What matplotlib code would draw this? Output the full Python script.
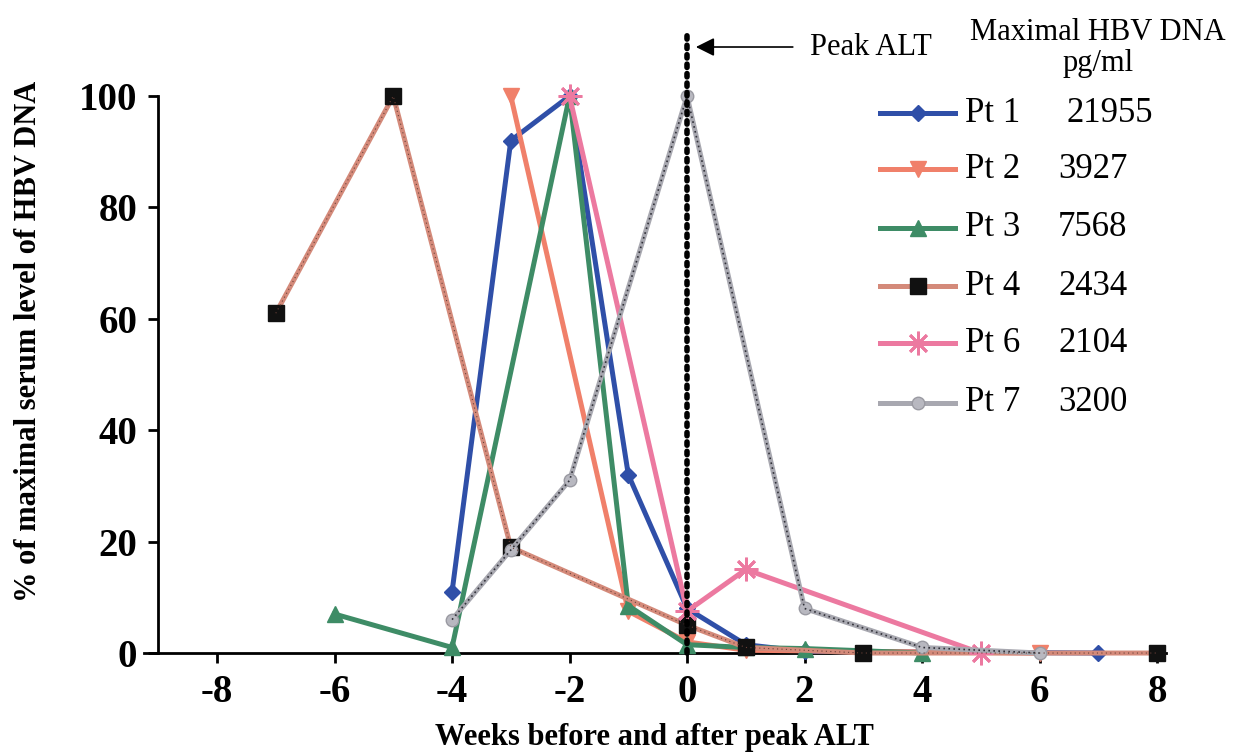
import matplotlib.pyplot as plt
from matplotlib.lines import Line2D

# datos (semanas, % del maximo de HBV DNA)
pt1_x = [-4, -3, -2, -1, 0, 1, 2, 7]
pt1_y = [11, 92, 100, 32, 8, 1.5, 0.3, 0]
pt2_x = [-3, -1, 0, 1, 6]
pt2_y = [100, 7.5, 2, 0.5, 0]
pt3_x = [-6, -4, -2, -1, 0, 1, 2, 4]
pt3_y = [7, 1, 100, 8.5, 1.5, 1, 0.8, 0]
pt4_x = [-7, -5, -3, 0, 1, 3, 8]
pt4_y = [61, 100, 19, 5, 1, 0, 0]
pt6_x = [-2, 0, 1, 5]
pt6_y = [100, 7.5, 15, 0]
pt7_x = [-4, -3, -2, 0, 2, 4, 6]
pt7_y = [6, 18.5, 31, 100, 8, 1, 0]

nombres = ['Pt 1', 'Pt 2', 'Pt 3', 'Pt 4', 'Pt 6', 'Pt 7']
max_dna = ['21955', '3927', '7568', '2434', '2104', '3200']
x_ticks = [-8, -6, -4, -2, 0, 2, 4, 6, 8]
y_ticks = [0, 20, 40, 60, 80, 100]

plt.rcParams['font.family'] = ['Liberation Serif', 'DejaVu Serif']
plt.rcParams['axes.unicode_minus'] = False

fig = plt.figure(figsize=(12.37, 7.56), dpi=100)
ax = fig.add_axes([0.1161, 0.1362, 0.8264, 0.8252])
ax.set_xlim(-9.25, 8.15)
ax.set_ylim(0, 112)

estilos = [
    dict(color='#2f4fa8', marker='D', ms=8, mfc='#2f4fa8', mec='#2f4fa8'),
    dict(color='#f0806a', marker='v', ms=12, mfc='#f0806a', mec='#f0806a'),
    dict(color='#3e8c66', marker='^', ms=11, mfc='#3e8c66', mec='#3e8c66'),
    dict(color='#d48a7a', marker='s', ms=11, mfc='#111111', mec='#111111'),
    dict(color='#ec79a0', marker=(8, 2, 0), ms=17, mfc='#ec79a0', mec='#ec79a0', mew=2),
    dict(color='#a8a8b0', marker='o', ms=9, mfc='#b8b8c0', mec='#9a9aa2'),
]
series = [(pt1_x, pt1_y), (pt2_x, pt2_y), (pt3_x, pt3_y),
          (pt4_x, pt4_y), (pt6_x, pt6_y), (pt7_x, pt7_y)]

# linea punteada del pico de ALT
ax.plot([0, 0], [0, 111], color='black', linestyle=(0, (0.6, 1.1)), lw=4,
        dash_capstyle='round', zorder=6, clip_on=False)

for (xs, ys), st in zip(series, estilos):
    ax.plot(xs, ys, lw=3.6, clip_on=False, zorder=3, **st)
# textura punteada oscura de Pt 4 y Pt 7
ax.plot(pt4_x, pt4_y, color='#6a4038', lw=0.8, linestyle=(0, (1, 3)), zorder=3.5, clip_on=False)
ax.plot(pt7_x, pt7_y, color='#303038', lw=1.2, linestyle=(0, (1, 2)), zorder=3.5, clip_on=False)

ax.annotate('', xy=(0.15, 108.8), xytext=(1.8, 108.8),
            arrowprops=dict(arrowstyle='-|>', color='black', lw=1.2,
                            mutation_scale=28, shrinkA=0, shrinkB=0))
ax.text(2.1, 108.8, 'Peak ALT', fontsize=22, va='center', ha='left')

# ejes
ax.spines['top'].set_visible(False)
ax.spines['right'].set_visible(False)
ax.spines['left'].set_position(('data', -9.0))
ax.spines['left'].set_bounds(0, 100)
ax.spines['left'].set_linewidth(2)
ax.spines['bottom'].set_linewidth(2)
ax.set_xticks(x_ticks)
ax.set_yticks(y_ticks)
ax.tick_params(axis='both', direction='out', length=7, width=2, labelsize=28, pad=8)
for lab in ax.get_xticklabels() + ax.get_yticklabels():
    lab.set_fontweight('bold')

ax.set_xlabel('Weeks before and after peak ALT', fontsize=22, fontweight='bold', labelpad=9)
ax.set_ylabel('% of maximal serum level of HBV DNA', fontsize=22, fontweight='bold', labelpad=26)

# leyenda hecha a mano
fig.text(1098 / 1237, 1 - 32 / 756, 'Maximal HBV DNA', fontsize=22, ha='center', va='center')
fig.text(1098 / 1237, 1 - 63 / 756, 'pg/ml', fontsize=22, ha='center', va='center')
filas_y = [113, 169, 228, 286, 343, 403]
for i, st in enumerate(estilos):
    yf = 1 - filas_y[i] / 756
    ln = Line2D([880 / 1237, 917.5 / 1237, 955 / 1237], [yf, yf, yf], lw=3.6,
                markevery=[1], transform=fig.transFigure, **st)
    fig.add_artist(ln)
    fig.text(965 / 1237, yf, nombres[i], fontsize=25, ha='left', va='center')
    xnum = 1066 if i == 0 else 1058
    fig.text(xnum / 1237, yf, max_dna[i], fontsize=25, ha='left', va='center')

fig.savefig('out.png', dpi=100, facecolor='white')
